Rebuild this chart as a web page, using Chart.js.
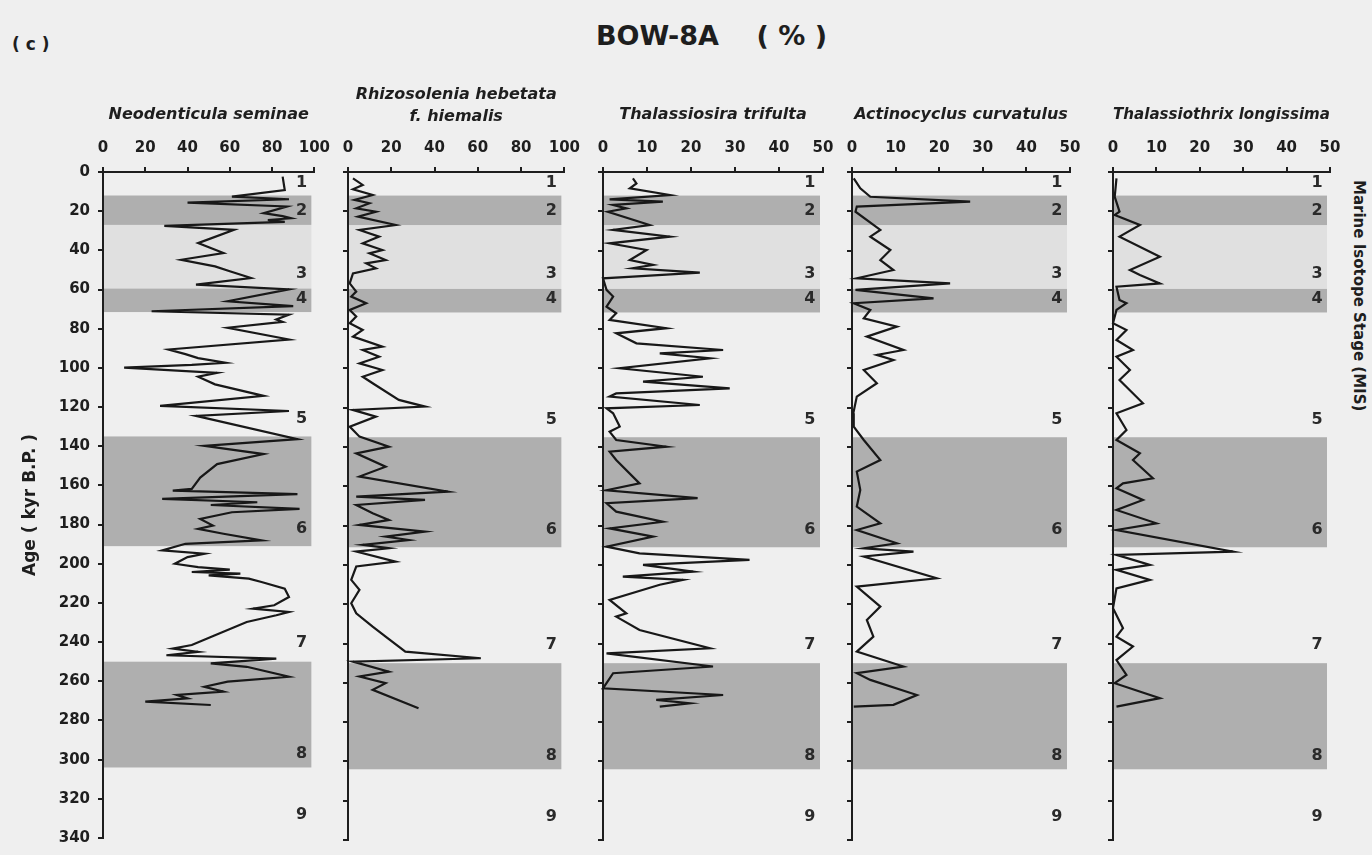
<!DOCTYPE html>
<html>
<head>
<meta charset="utf-8">
<script src="https://cdn.jsdelivr.net/npm/chart.js@4.4.1/dist/chart.umd.min.js"></script>
<style>
  body { margin: 0; background: #efefef; width: 1372px; height: 855px; overflow: hidden; position: relative;
         font-family: "DejaVu Sans", sans-serif; color: #1e1e1e; }
  canvas { position: absolute; top: 0; }
  #tag { position: absolute; left: 12px; top: 34px; font-weight: bold; font-size: 17px; white-space: pre; }
  #main { position: absolute; left: 596px; top: 20px; font-weight: bold; font-size: 27px; white-space: pre; }
  #mis { position: absolute; left: 1350px; top: 180px; writing-mode: vertical-rl; font-weight: bold; font-size: 15px; }
</style>
</head>
<body>
<div id="tag">( c )</div>
<div id="main">BOW-8A    ( % )</div>
<div id="mis">Marine Isotope Stage (MIS)</div>

<script>
// [age kyr B.P., percent]
const neodenticula = [[2.4,85],[9.2,86],[12.6,61],[13.9,88],[15.6,40],[17.6,87],[21,76],[22.5,85],[23.6,89],[24.5,78],
  [25.5,86],[27.5,29],[29.5,62],[36.3,45],[41.4,57],[44.8,37],[48.2,53],[50.7,60],[54.1,70],[57.5,44],[59.9,88],[66,59],
  [68.5,90],[71.1,23],[72.8,88],[75.3,82],[76.5,85],[79.5,59],[85.5,88],[90.6,31],[93,39],[95,45],[97.4,58],[98.5,42],
  [99.9,10],[102.5,54],[104.5,45],[108.4,53],[114.3,76],[119.4,27],[122,88],[124.5,44],[136.4,92],[139.8,48],[144,76],
  [149.1,54],[156,46],[161.8,42],[162.7,33],[164.4,92],[166.9,28],[168.6,73],[170,51],[172,93],[173.7,61],[177.1,46],
  [180.5,52],[182.2,45],[184.7,57],[188.1,75],[189.8,39],[193.2,28],[194.9,48],[196.6,40],[200,34],[201.7,45],[203,60],
  [204.2,42],[205,65],[205.9,50],[207.6,69],[209.3,75],[212.7,86],[217,88],[221.2,81],[222.9,71],[224.6,88],[226.3,82],
  [229.7,68],[236.5,53],[241.5,42],[243.3,33],[245,45],[246.7,30],[248.4,82],[250.9,51],[252.6,68],[257.7,88],[260.2,59],
  [262.8,48],[265.3,57],[267,35],[268.7,40],[270.4,20],[272.1,51]];

const rhizosolenia = [[3.2,2.3],[6.6,6.8],[8.8,2.3],[11.7,11.4],[14.2,3],[15.9,9.9],[18.5,3.8],[20.2,12.9],[22.7,4.6],
  [27,22],[29.5,5.3],[32.9,14.4],[36.3,6.8],[39.7,15.9],[41.4,9.9],[44.8,17.4],[46.5,8.4],[49,12.9],[51.6,2.3],[56.7,0.8],
  [60.9,3.8],[63.4,1.5],[66.8,8.4],[70.2,0.8],[73.6,3.8],[77,0.8],[80.4,6.8],[83.8,2.3],[88.9,15.9],[90.6,6.8],[94,14.4],
  [97.4,5.3],[100.8,15.9],[104.2,6.8],[107.5,11.4],[116,23.5],[119.4,35.6],[121.1,2.3],[124.5,12.9],[129.6,0.8],
  [134.7,5.3],[139.8,18.9],[143.2,3.8],[150,17.4],[155,5.3],[162.7,46.2],[165.2,3.8],[166.9,35.6],[169.5,3.8],
  [173.7,11.4],[177.1,18.9],[179.6,5.3],[183,35.6],[185.6,17.4],[187.3,28],[189.8,6.8],[191.5,18.9],[193.2,3.8],
  [198.3,22],[200.8,3.8],[207.6,1.5],[212.7,5.3],[219.5,1.5],[224.6,3.8],[231.4,11.4],[236.5,17.4],[244.1,26.5],
  [247.5,61.4],[249.2,2.3],[254.3,18.9],[256.8,5.3],[260.2,17.4],[263.6,11.4],[272.9,32.6]];

const thalassiosira = [[3.2,6.8],[5.8,7.6],[8.3,6.1],[11.7,15.2],[13.9,1.5],[15.1,13.6],[16.8,2.3],[18.5,5.3],[20.2,1.1],
  [27,10.6],[29.5,2.3],[32.9,15.2],[36.3,1.5],[39.7,9.9],[44.8,6.1],[47.3,11.4],[49,6.8],[51.2,22],[53.3,6.8],[54.1,0],
  [60,0.8],[63.4,2.3],[68.5,0.8],[71.9,3],[75.3,1.5],[79.5,14.4],[82.1,3],[87.2,7.6],[90.6,27.3],[92.3,12.9],[94.8,24.3],
  [99.9,3.8],[104.2,22.7],[106.7,9.1],[110.1,28.8],[112.7,3],[114.3,1.5],[118.6,22],[120.3,0.8],[122.8,2.3],[129.6,3.8],
  [132.2,1.5],[136.4,3],[139.8,14.4],[142.3,1.5],[146.6,3],[158.5,8.3],[162,0.8],[166,21.5],[168.6,0.8],[172.9,3],
  [178,13.6],[181.4,1.5],[185.6,11.4],[190.7,0.8],[194.1,8.3],[197.4,33.3],[200,9.1],[203.4,20.5],[205.9,4.5],
  [207.6,18.2],[210.1,12.9],[217.8,1.5],[224.6,5.3],[226.3,3],[233.1,8.3],[242.4,24.3],[245,0.8],[251.7,25],[255.1,2.3],
  [260.2,0.8],[262.8,0],[266.2,27.3],[268.7,12.1],[270.4,19.7],[272.1,12.9]];

const actinocyclus = [[3.2,0.4],[8.3,1.9],[12.6,4.2],[15.1,27.1],[17.6,1.1],[20.2,0.8],[29.5,6.5],[32.9,4.2],[39.7,8.8],
  [44.8,6.5],[49.9,9.5],[54.1,1.1],[56.7,22.5],[60,0.8],[64.3,18.7],[66.8,0.4],[70.2,4.2],[74.5,2.7],[78.7,10.3],
  [83.8,3.4],[90.6,11.8],[93.1,5.7],[95.7,9.5],[100.8,2.7],[107.5,5.7],[114.3,1.1],[122.8,0.3],[129.6,0.4],[136.4,2.7],
  [146.6,6.5],[152.5,1.1],[161.8,1.9],[170.3,1.1],[178.8,6.5],[182.2,1.1],[189,10.3],[191.5,2.7],[193.2,14.1],
  [195.7,2.7],[206.8,19.4],[211,1.1],[221.2,6.5],[228,3.4],[236.5,4.9],[244.1,1.1],[251.7,11.8],[255.1,1.1],[258.5,4.2],
  [266.2,14.9],[271.2,9.5],[272.1,0.4]];

const thalassiothrix = [[3.2,0.8],[12.6,0.4],[20.2,1.5],[21.9,0.4],[27,6.2],[32.9,1.5],[43.1,10.8],[49.9,3.9],[52.4,6.2],
  [56.7,10.8],[58.4,0.8],[65.1,1.5],[66.8,3.1],[70.2,0.8],[77,0],[80.4,3.1],[85.5,0.8],[90.6,4.6],[94,0.8],[100.8,3.9],
  [105.9,1.5],[117.7,6.9],[122.8,0.8],[131.3,3.1],[136.4,0.8],[143.2,6.2],[146.6,4.6],[155.9,9.2],[158.5,2.3],[161,0.8],
  [166.9,6.9],[172,0.8],[178.8,10],[182.2,0.8],[193.2,27.7],[194.9,0.8],[200,8.5],[202.5,0.8],[207.6,8.5],[211.9,0.8],
  [222,0],[232.2,2.3],[236.5,0.8],[241.5,4.6],[248.4,0.8],[256,3.1],[260.2,0.4],[267.8,10.8],[272.1,0.8]];

const taxa = ['Neodenticula seminae', ['Rhizosolenia hebetata', 'f. hiemalis'], 'Thalassiosira trifulta',
  'Actinocyclus curvatulus', 'Thalassiothrix longissima'];
const series = [neodenticula, rhizosolenia, thalassiosira, actinocyclus, thalassiothrix];
const pctMax = [100, 100, 50, 50, 50];
const pctStep = [20, 20, 10, 10, 10];

const stageNames = ['1', '2', '3', '4', '5', '6', '7', '8', '9'];
const stageAges = [5.5, 20, 52, 64.5, 126, 182, 240.5, 297, 328];
const glacialTop = [12, 59.5, 135, 250];
const glacialBase = [27, 71.5, 191, 304];
const mis3 = [27, 59.5];

const ageMax = 340, ageStep = 20;

// page layout
const LEFT = [103, 348, 603, 852, 1113];
const WIDTH = [215, 220, 220, 218, 217];
const TOP = 172, H = 855, BOTTOM_PAD = 15, RIGHT_PAD = 22;
const INK = '#1e1e1e';
const FONT = 'DejaVu Sans';

Chart.defaults.font.family = FONT;
Chart.defaults.color = INK;

const shading = {
  id: 'shading',
  beforeDraw(chart) {
    const { ctx, chartArea: a, scales: { y } } = chart;
    const band = (t, b) => {
      const y0 = y.getPixelForValue(t), y1 = y.getPixelForValue(b);
      ctx.fillRect(a.left + 1, y0, a.width - 4, y1 - y0);
    };
    ctx.save();
    ctx.fillStyle = '#e0e0e0';
    band(mis3[0], mis3[1]);
    ctx.fillStyle = '#afafaf';
    glacialTop.forEach((t, k) => band(t, glacialBase[k]));
    ctx.restore();
  }
};

const stages = {
  id: 'stages',
  afterDatasetsDraw(chart) {
    const { ctx, chartArea: a, scales: { y } } = chart;
    ctx.save();
    ctx.font = 'bold 16px ' + FONT;
    ctx.fillStyle = '#2a2a2a';
    ctx.textAlign = 'center';
    ctx.textBaseline = 'middle';
    stageNames.forEach((s, k) => ctx.fillText(s, a.left + a.width * 0.94, y.getPixelForValue(stageAges[k])));
    ctx.restore();
  }
};

series.forEach((pts, i) => {
  const yW = i === 0 ? LEFT[0] : 30;
  const cv = document.createElement('canvas');
  cv.width = yW + WIDTH[i] + RIGHT_PAD;
  cv.height = H;
  cv.style.left = (LEFT[i] - yW) + 'px';
  document.body.appendChild(cv);

  const twoLine = Array.isArray(taxa[i]);
  const axisLine = { display: true, color: INK, width: 2 };
  const tickMarks = { display: true, drawOnChartArea: false, drawTicks: true, tickLength: 5, color: INK, lineWidth: 2 };
  const tickFont = { family: FONT, weight: 'bold', size: 15 };

  new Chart(cv, {
    type: 'line',
    data: {
      datasets: [{
        data: pts.map(p => ({ x: p[1], y: p[0] })),
        borderColor: '#181818',
        borderWidth: 2.2,
        pointRadius: 0,
        tension: 0,
        clip: 6
      }]
    },
    options: {
      indexAxis: 'y',
      responsive: false,
      animation: false,
      events: [],
      layout: { padding: { left: 0, right: RIGHT_PAD, top: 0, bottom: BOTTOM_PAD } },
      plugins: { legend: { display: false }, tooltip: { enabled: false } },
      scales: {
        x: {
          type: 'linear', position: 'top', min: 0, max: pctMax[i],
          ticks: { stepSize: pctStep[i], autoSkip: false, maxRotation: 0, font: tickFont, padding: 10 },
          grid: tickMarks,
          border: axisLine,
          title: {
            display: true, text: taxa[i],
            font: { family: FONT, weight: 'bold', style: 'italic', size: 16, lineHeight: 1.35 },
            padding: { top: twoLine ? 84 : 104 }
          },
          afterFit: s => { s.height = TOP; }
        },
        y: {
          type: 'linear', reverse: true, min: 0, max: ageMax,
          ticks: { stepSize: ageStep, display: i === 0, font: tickFont, padding: 8 },
          grid: tickMarks,
          border: axisLine,
          title: {
            display: i === 0, text: 'Age ( kyr B.P. )',
            font: { family: FONT, weight: 'bold', size: 17 }, padding: { top: 20 }
          },
          afterFit: s => { s.width = yW; }
        }
      }
    },
    plugins: [shading, stages]
  });
});
</script>
</body>
</html>
